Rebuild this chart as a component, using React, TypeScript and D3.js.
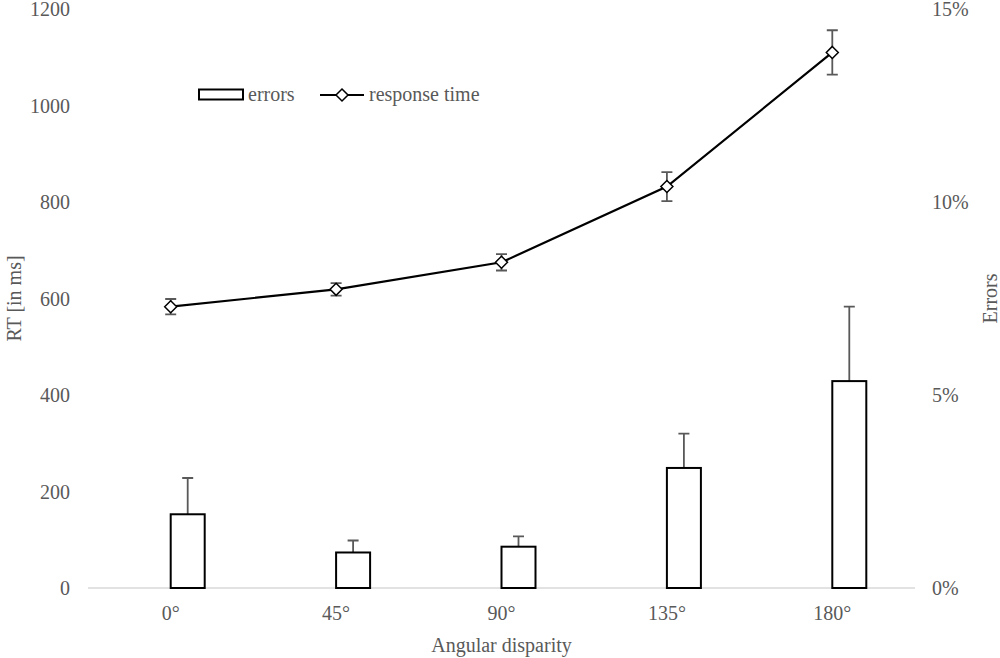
import type React from "react"
import { useEffect, useRef } from "react"
import * as d3 from "d3"

const categories = ["0°", "45°", "90°", "135°", "180°"]
const rtValues = [583, 619, 675, 832, 1110]
const rtErrors = [16, 13, 17, 30, 46]
const errorValues = [0.0191, 0.0092, 0.0107, 0.0311, 0.0536]
const errorErrors = [0.0094, 0.0031, 0.0027, 0.0089, 0.0193]
const rtTicks = [0, 200, 400, 600, 800, 1000, 1200]
const errTicks = [0, 0.05, 0.1, 0.15]

const width = 1000
const height = 658
const textColor = "#595959"
const font = "'Liberation Serif', 'Times New Roman', serif"
const fontSize = 20

const App: React.FC = () => {
  const svgRef = useRef<SVGSVGElement | null>(null)

  useEffect(() => {
    const svg = d3.select(svgRef.current)
    svg.selectAll("*").remove()

    const margin = { top: 9, right: 85, bottom: 70, left: 88 }
    const plotW = width - margin.left - margin.right
    const plotH = height - margin.top - margin.bottom

    const g = svg.append("g").attr("transform", `translate(${margin.left},${margin.top})`)

    const x = d3.scaleBand<string>().domain(categories).range([0, plotW])
    const cx = (c: string) => (x(c) ?? 0) + x.bandwidth() / 2
    const yL = d3.scaleLinear().domain([0, 1200]).range([plotH, 0])
    const yR = d3.scaleLinear().domain([0, 0.15]).range([plotH, 0])
    const barW = 34

    // left axis labels
    g.selectAll(".ltick")
      .data(rtTicks)
      .enter()
      .append("text")
      .attr("x", -18)
      .attr("y", (d) => yL(d))
      .attr("dy", "0.35em")
      .attr("text-anchor", "end")
      .attr("font-family", font)
      .attr("font-size", fontSize)
      .attr("fill", textColor)
      .text((d) => d)

    // right axis labels
    g.selectAll(".rtick")
      .data(errTicks)
      .enter()
      .append("text")
      .attr("x", plotW + 17)
      .attr("y", (d) => yR(d))
      .attr("dy", "0.35em")
      .attr("text-anchor", "start")
      .attr("font-family", font)
      .attr("font-size", fontSize)
      .attr("fill", textColor)
      .text((d) => d3.format(".0%")(d))

    // x tick labels
    g.selectAll(".xtick")
      .data(categories)
      .enter()
      .append("text")
      .attr("x", cx)
      .attr("y", plotH + 32)
      .attr("text-anchor", "middle")
      .attr("font-family", font)
      .attr("font-size", fontSize)
      .attr("fill", textColor)
      .text((d) => d)

    // baseline
    g.append("line")
      .attr("x1", 0)
      .attr("x2", plotW)
      .attr("y1", plotH)
      .attr("y2", plotH)
      .attr("stroke", "#d9d9d9")
      .attr("stroke-width", 1.5)

    // bar error bars
    const barData = categories.map((c, i) => ({ c, v: errorValues[i], e: errorErrors[i] }))
    g.selectAll(".bar-err")
      .data(barData)
      .enter()
      .append("path")
      .attr("class", "bar-err")
      .attr("d", (d) => {
        const bx = cx(d.c) + barW / 2
        return `M${bx},${yR(d.v)}V${yR(d.v + d.e)}M${bx - 5.5},${yR(d.v + d.e)}H${bx + 5.5}`
      })
      .attr("stroke", textColor)
      .attr("stroke-width", 1.8)
      .attr("fill", "none")

    // bars
    g.selectAll(".bar")
      .data(barData)
      .enter()
      .append("rect")
      .attr("class", "bar")
      .attr("x", (d) => cx(d.c))
      .attr("y", (d) => yR(d.v))
      .attr("width", barW)
      .attr("height", (d) => plotH - yR(d.v))
      .attr("fill", "white")
      .attr("stroke", "black")
      .attr("stroke-width", 2)

    // RT error bars
    const rtData = categories.map((c, i) => ({ c, v: rtValues[i], e: rtErrors[i] }))
    g.selectAll(".rt-err")
      .data(rtData)
      .enter()
      .append("path")
      .attr("d", (d) => {
        const px = cx(d.c)
        const t = yL(d.v + d.e)
        const b = yL(d.v - d.e)
        return `M${px},${t}V${b}M${px - 5.5},${t}H${px + 5.5}M${px - 5.5},${b}H${px + 5.5}`
      })
      .attr("stroke", textColor)
      .attr("stroke-width", 1.8)
      .attr("fill", "none")

    // RT line
    const line = d3
      .line<{ c: string; v: number }>()
      .x((d) => cx(d.c))
      .y((d) => yL(d.v))
    g.append("path")
      .datum(rtData)
      .attr("d", line)
      .attr("fill", "none")
      .attr("stroke", "black")
      .attr("stroke-width", 2.2)

    const diamond = (px: number, py: number, r: number) =>
      `M${px},${py - r}L${px + r},${py}L${px},${py + r}L${px - r},${py}Z`

    g.selectAll(".rt-pt")
      .data(rtData)
      .enter()
      .append("path")
      .attr("d", (d) => diamond(cx(d.c), yL(d.v), 6))
      .attr("fill", "white")
      .attr("stroke", "black")
      .attr("stroke-width", 1.5)

    // legend
    const leg = svg.append("g")
    leg.append("rect")
      .attr("x", 199)
      .attr("y", 89.5)
      .attr("width", 44)
      .attr("height", 10)
      .attr("fill", "white")
      .attr("stroke", "black")
      .attr("stroke-width", 2)
    leg.append("text")
      .attr("x", 248)
      .attr("y", 101)
      .attr("font-family", font)
      .attr("font-size", fontSize)
      .attr("fill", textColor)
      .text("errors")
    leg.append("line")
      .attr("x1", 320)
      .attr("x2", 364)
      .attr("y1", 95)
      .attr("y2", 95)
      .attr("stroke", "black")
      .attr("stroke-width", 2.2)
    leg.append("path")
      .attr("d", diamond(342, 95, 6))
      .attr("fill", "white")
      .attr("stroke", "black")
      .attr("stroke-width", 1.5)
    leg.append("text")
      .attr("x", 369)
      .attr("y", 101)
      .attr("font-family", font)
      .attr("font-size", fontSize)
      .attr("fill", textColor)
      .text("response time")

    // axis titles
    svg.append("text")
      .attr("transform", `translate(21,${margin.top + plotH / 2}) rotate(-90)`)
      .attr("text-anchor", "middle")
      .attr("font-family", font)
      .attr("font-size", fontSize)
      .attr("fill", textColor)
      .text("RT [in ms]")
    svg.append("text")
      .attr("transform", `translate(997,${margin.top + plotH / 2}) rotate(-90)`)
      .attr("text-anchor", "middle")
      .attr("font-family", font)
      .attr("font-size", fontSize)
      .attr("fill", textColor)
      .text("Errors")
    svg.append("text")
      .attr("x", margin.left + plotW / 2)
      .attr("y", 652)
      .attr("text-anchor", "middle")
      .attr("font-family", font)
      .attr("font-size", fontSize)
      .attr("fill", textColor)
      .text("Angular disparity")
  }, [])

  return (
    <svg
      ref={svgRef}
      width={width}
      height={height}
      style={{ position: "absolute", left: 0, top: 0, background: "white" }}
    ></svg>
  )
}

export default App
